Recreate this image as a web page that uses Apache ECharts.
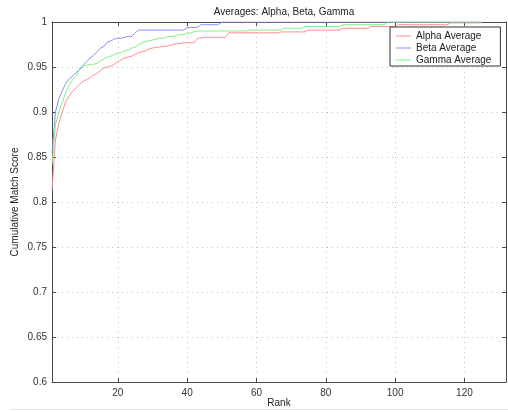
<!DOCTYPE html>
<html>
<head>
<meta charset="utf-8">
<script src="https://cdn.jsdelivr.net/npm/echarts@6/dist/echarts.min.js"></script>
<style>html,body{margin:0;padding:0;background:#fff;}#c{width:508px;height:412px;}</style>
</head>
<body>
<div id="c"></div>
<script>
var titleText = 'Averages: Alpha, Beta, Gamma';
var xName = 'Rank';
var yName = 'Cumulative Match Score';
var xTicks = [20, 40, 60, 80, 100, 120];
var seriesNames = ['Alpha Average', 'Beta Average', 'Gamma Average'];

var alpha = [
0.813,0.869,0.888,0.900,0.912,0.918,0.923,0.927,0.931,0.934,
0.936,0.938,0.941,0.943,0.946,0.949,0.950,0.951,0.953,0.956,
0.958,0.960,0.961,0.962,0.964,0.966,0.967,0.968,0.970,0.971,
0.972,0.972,0.973,0.973,0.974,0.975,0.976,0.976,0.977,0.977,
0.977,0.977,0.982,0.982,0.983,0.983,0.983,0.983,0.983,0.983,
0.983,0.988,0.988,0.988,0.988,0.988,0.988,0.988,0.988,0.988,
0.988,0.988,0.988,0.988,0.988,0.988,0.989,0.989,0.989,0.989,
0.989,0.989,0.989,0.989,0.991,0.991,0.991,0.991,0.991,0.991,
0.991,0.991,0.991,0.991,0.993,0.993,0.993,0.993,0.993,0.993,
0.993,0.993,0.995,0.995,0.995,0.995,0.995,0.995,0.995,0.995,
0.997,0.997,0.997,0.997,0.997,0.997,0.997,0.997,0.997,0.997,
0.997,0.997,0.997,0.997,0.997,0.999,0.999,0.999,0.999,0.999,
0.999,0.999,0.999,0.999,0.999
];
var beta = [
0.854,0.900,0.915,0.924,0.932,0.937,0.940,0.944,0.947,0.952,
0.956,0.960,0.963,0.967,0.971,0.973,0.978,0.979,0.981,0.982,
0.982,0.983,0.984,0.984,0.988,0.991,0.991,0.991,0.991,0.991,
0.991,0.991,0.991,0.991,0.991,0.991,0.991,0.991,0.991,0.994,
0.994,0.994,0.994,0.997,0.997,0.997,0.997,0.997,0.997,1,
1,1,1,1,1,1,1,1,1,1,
1,1,1,1,1,1,1,1,1,1,
1,1,1,1,1,1,1,1,1,1,
1,1,1,1,1,1,1,1,1,1,
1,1,1,1,1,1,1,1,1,1,
1,1,1,1,1,1,1,1,1,1,
1,1,1,1,1,1,1,1,1,1,
1,1,1,1,1
];
var gamma = [
0.841,0.886,0.900,0.911,0.922,0.930,0.936,0.940,0.949,0.951,
0.952,0.953,0.953,0.954,0.957,0.959,0.961,0.962,0.964,0.965,
0.966,0.968,0.969,0.971,0.972,0.975,0.977,0.978,0.979,0.980,
0.981,0.982,0.982,0.983,0.984,0.984,0.985,0.986,0.986,0.987,
0.988,0.989,0.990,0.990,0.990,0.990,0.990,0.990,0.990,0.990,
0.990,0.990,0.990,0.990,0.990,0.990,0.990,0.991,0.991,0.991,
0.991,0.991,0.991,0.991,0.991,0.991,0.991,0.993,0.993,0.993,
0.993,0.993,0.993,0.995,0.995,0.995,0.995,0.995,0.995,0.995,
0.995,0.995,0.995,0.995,0.997,0.997,0.997,0.997,0.997,0.997,
0.997,0.997,0.997,0.997,0.997,0.997,0.997,1,1,1,
1,1,1,1,1,1,1,1,1,1,
1,1,1,1,1,1,1,1,1,1,
1,1,1,1,1
];
var colors = ['#ff8c8c', '#8c8cff', '#82ef82'];

function pairs(arr) { return arr.map(function (v, i) { return [i + 1, v]; }); }

var font = 'Liberation Sans, Arial, Helvetica, sans-serif';
var axisCol = '#4a4a4a';
var gridLine = { show: true, lineStyle: { color: '#c4c4c4', type: [1, 4], width: 1 } };

var chart = echarts.init(document.getElementById('c'), null, { renderer: 'canvas' });
chart.setOption({
  animation: false,
  backgroundColor: '#fff',
  title: {
    text: titleText, left: 279, top: 2, textAlign: 'center',
    textStyle: { fontFamily: font, fontSize: 10, fontWeight: 'normal', color: '#222' }
  },
  grid: { left: 52, right: 2, top: 22, bottom: 30, containLabel: false, outerBoundsMode: 'none' },
  legend: {
    data: seriesNames, orient: 'vertical', left: 390, top: 27,
    backgroundColor: '#fff', borderColor: '#333', borderWidth: 1,
    padding: [4, 9, 1, 6], itemGap: 2, itemWidth: 15, itemHeight: 1, icon: 'rect',
    textStyle: { fontFamily: font, fontSize: 10, color: '#222' }
  },
  graphic: [{ type: 'line', shape: { x1: 10, y1: 409.5, x2: 508, y2: 409.5 }, style: { stroke: '#e6e6e6', lineWidth: 1 } }],
  xAxis: [{
    type: 'value', min: 1, max: 132, position: 'bottom',
    name: xName, nameLocation: 'middle', nameGap: 16, nameMoveOverlap: false,
    nameTextStyle: { fontFamily: font, fontSize: 10, color: '#222' },
    axisLine: { show: true, lineStyle: { color: axisCol, width: 1 } },
    axisTick: { show: true, inside: true, length: 4, customValues: xTicks, lineStyle: { color: axisCol } },
    axisLabel: { customValues: xTicks, fontFamily: font, fontSize: 10, color: '#333', margin: 6 },
    splitLine: gridLine
  }, {
    type: 'value', min: 1, max: 132, position: 'top',
    axisLine: { show: true, lineStyle: { color: axisCol, width: 1 } },
    axisTick: { show: true, inside: true, length: 4, customValues: xTicks, lineStyle: { color: axisCol } },
    axisLabel: { show: false }, splitLine: { show: false }
  }],
  yAxis: [{
    type: 'value', min: 0.6, max: 1, interval: 0.05, position: 'left',
    name: yName, nameLocation: 'middle', nameGap: 32, nameMoveOverlap: false,
    nameTextStyle: { fontFamily: font, fontSize: 10, color: '#222' },
    axisLine: { show: true, lineStyle: { color: axisCol, width: 1 } },
    axisTick: { show: true, inside: true, length: 4, lineStyle: { color: axisCol } },
    axisLabel: { fontFamily: font, fontSize: 10, color: '#333', margin: 5,
      formatter: function (v) { return String(+v.toFixed(2)); } },
    splitLine: gridLine
  }, {
    type: 'value', min: 0.6, max: 1, interval: 0.05, position: 'right',
    axisLine: { show: true, lineStyle: { color: axisCol, width: 1 } },
    axisTick: { show: true, inside: true, length: 4, lineStyle: { color: axisCol } },
    axisLabel: { show: false }, splitLine: { show: false }
  }],
  series: [
    { name: seriesNames[0], type: 'line', data: pairs(alpha), symbol: 'none', color: colors[0], lineStyle: { width: 1 } },
    { name: seriesNames[1], type: 'line', data: pairs(beta), symbol: 'none', color: colors[1], lineStyle: { width: 1 } },
    { name: seriesNames[2], type: 'line', data: pairs(gamma), symbol: 'none', color: colors[2], lineStyle: { width: 1 } }
  ]
});
</script>
</body>
</html>
